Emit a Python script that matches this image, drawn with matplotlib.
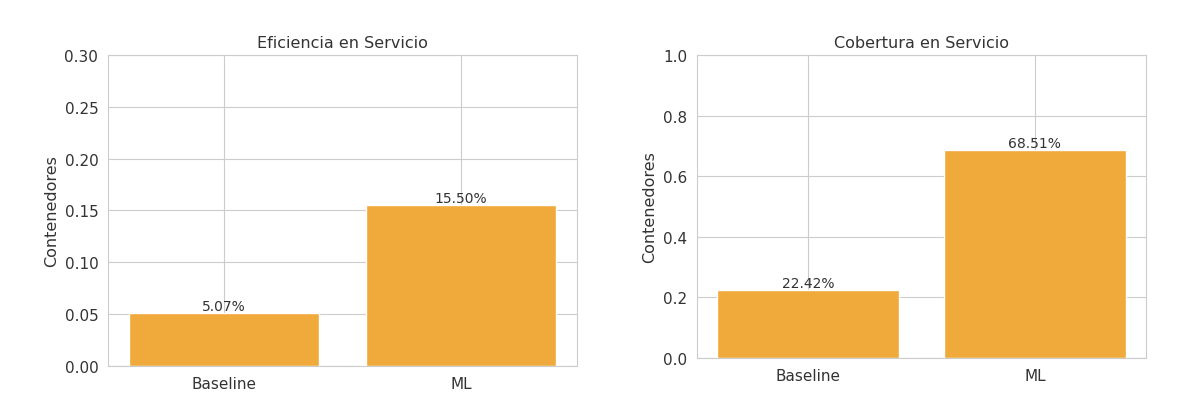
import matplotlib
matplotlib.use("Agg")
import matplotlib.pyplot as plt
import seaborn as sns

sns.set_style("whitegrid")

modelos = ["Baseline", "ML"]
eficiencia = [0.0507, 0.1550]
cobertura = [0.2242, 0.6851]
color_barra = "#f0a93b"

fig = plt.figure(figsize=(12.02, 4.14), dpi=100)
ax1 = fig.add_axes([108/1202, 1 - 367/414, 469/1202, 311/414])
ax2 = fig.add_axes([697/1202, 1 - 359/414, 449/1202, 303/414])

for ax, vals, titulo, ymax in [(ax1, eficiencia, "Eficiencia en Servicio", 0.30),
                               (ax2, cobertura, "Cobertura en Servicio", 1.0)]:
    barras = ax.bar(modelos, vals, color=color_barra)
    for b, v in zip(barras, vals):
        ax.text(b.get_x() + b.get_width() / 2, v, f"{v*100:.2f}%",
                ha="center", va="bottom", fontsize=10, color="#333333")
    ax.set_ylim(0, ymax)
    ax.set_title(titulo, fontsize=11.5, color="#333333")
    ax.set_ylabel("Contenedores", fontsize=11.5, color="#333333")
    ax.tick_params(labelsize=11, colors="#333333")

fig.savefig("out.png", dpi=100)
